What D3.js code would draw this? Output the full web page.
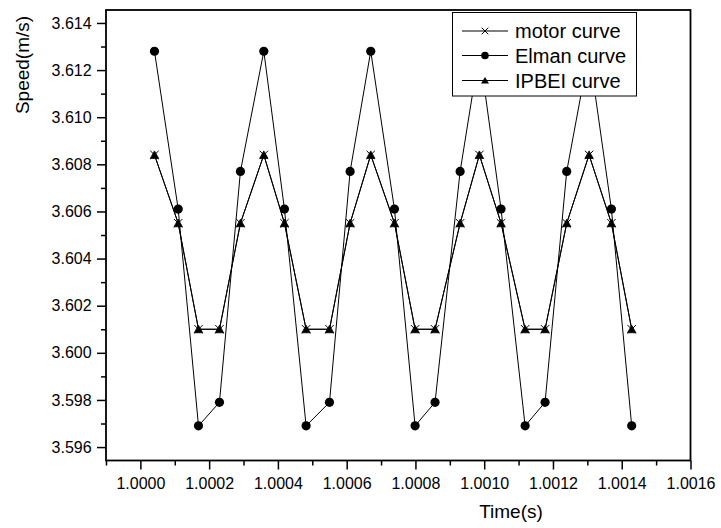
<!DOCTYPE html>
<html>
<head>
<meta charset="utf-8">
<script src="https://cdn.jsdelivr.net/npm/d3@7"></script>
<style>
  html, body { margin: 0; padding: 0; background: #fff; }
  svg { display: block; font-family: "Liberation Sans", Arial, sans-serif; }
</style>
</head>
<body>
<svg id="chart" width="721" height="528"></svg>
<script>
// Sample instants (s)
const times = [
  1.000041, 1.000110, 1.000169, 1.000230, 1.000291,
  1.000359, 1.000419, 1.000482, 1.000550, 1.000610,
  1.000670, 1.000739, 1.000799, 1.000857, 1.000930,
  1.000986, 1.001049, 1.001119, 1.001177, 1.001240,
  1.001305, 1.001370, 1.001429
];
// Speed (m/s) of each curve
const motorSpeed = [
  3.6084, 3.6055, 3.6010, 3.6010, 3.6055,
  3.6084, 3.6055, 3.6010, 3.6010, 3.6055,
  3.6084, 3.6055, 3.6010, 3.6010, 3.6055,
  3.6084, 3.6055, 3.6010, 3.6010, 3.6055,
  3.6084, 3.6055, 3.6010
];
const elmanSpeed = [
  3.6128, 3.6061, 3.5969, 3.5979, 3.6077,
  3.6128, 3.6061, 3.5969, 3.5979, 3.6077,
  3.6128, 3.6061, 3.5969, 3.5979, 3.6077,
  3.6128, 3.6061, 3.5969, 3.5979, 3.6077,
  3.6128, 3.6061, 3.5969
];
const ipbeiSpeed = [
  3.6084, 3.6055, 3.6010, 3.6010, 3.6055,
  3.6084, 3.6055, 3.6010, 3.6010, 3.6055,
  3.6084, 3.6055, 3.6010, 3.6010, 3.6055,
  3.6084, 3.6055, 3.6010, 3.6010, 3.6055,
  3.6084, 3.6055, 3.6010
];
const seriesNames = ["motor curve", "Elman curve", "IPBEI curve"];
const xTicks = [1.0000, 1.0002, 1.0004, 1.0006, 1.0008, 1.0010, 1.0012, 1.0014, 1.0016];
const xMinorTicks = [0.9999, 1.0001, 1.0003, 1.0005, 1.0007, 1.0009, 1.0011, 1.0013, 1.0015];
const yTicks = [3.596, 3.598, 3.600, 3.602, 3.604, 3.606, 3.608, 3.610, 3.612, 3.614];
const yMinorTicks = [3.597, 3.599, 3.601, 3.603, 3.605, 3.607, 3.609, 3.611, 3.613];

const svg = d3.select("#chart");
const m = { left: 106, top: 10, right: 690.5, bottom: 460.5 };

const x = d3.scaleLinear().domain([0.9999, 1.0016]).range([m.left, m.right]);
const y = d3.scaleLinear().domain([3.59543, 3.61455]).range([m.bottom, m.top]);

// Axes with major and minor ticks
const gx = svg.append("g").attr("transform", `translate(0,${m.bottom})`);
gx.call(d3.axisBottom(x).tickValues(xTicks).tickFormat(d3.format(".4f")).tickSize(9).tickSizeOuter(0));
gx.append("g").call(d3.axisBottom(x).tickValues(xMinorTicks).tickFormat("").tickSize(5).tickSizeOuter(0));

const gy = svg.append("g").attr("transform", `translate(${m.left},0)`);
gy.call(d3.axisLeft(y).tickValues(yTicks).tickFormat(d3.format(".3f")).tickSize(9).tickSizeOuter(0));
gy.append("g").call(d3.axisLeft(y).tickValues(yMinorTicks).tickFormat("").tickSize(5).tickSizeOuter(0));

svg.selectAll(".domain").remove();
svg.selectAll(".tick line").attr("stroke", "#000").attr("stroke-width", 1.5);
gx.selectAll(".tick text").attr("font-size", 16).attr("fill", "#000").attr("dy", "1.03em");
gy.selectAll(".tick text").attr("font-size", 16).attr("fill", "#000").attr("dx", "-0.15em");

// Plot frame
svg.append("rect")
  .attr("x", m.left).attr("y", m.top)
  .attr("width", m.right - m.left).attr("height", m.bottom - m.top)
  .attr("fill", "none").attr("stroke", "#000").attr("stroke-width", 1.8);

// Axis titles
svg.append("text")
  .attr("transform", `translate(29,65) rotate(-90)`)
  .attr("text-anchor", "middle").attr("font-size", 19).text("Speed(m/s)");
svg.append("text")
  .attr("x", 511).attr("y", 518)
  .attr("text-anchor", "middle").attr("font-size", 19).text("Time(s)");

// Marker shapes
function circleMark(g, cx, cy) {
  g.append("circle").attr("cx", cx).attr("cy", cy).attr("r", 4.6).attr("fill", "#000");
}
function triMark(g, cx, cy) {
  g.append("path")
    .attr("d", `M${cx - 4.2},${cy + 3.5} L${cx + 4.2},${cy + 3.5} L${cx},${cy - 4} Z`)
    .attr("fill", "#000").attr("stroke", "#000").attr("stroke-width", 0.8);
}
function crossMark(g, cx, cy) {
  const s = 4.2;
  g.append("path")
    .attr("d", `M${cx - s},${cy - s} L${cx + s},${cy + s} M${cx - s},${cy + s} L${cx + s},${cy - s}`)
    .attr("stroke", "#000").attr("stroke-width", 1).attr("fill", "none");
}

const line = d3.line().x(d => x(d[0])).y(d => y(d[1]));
const series = [
  { name: seriesNames[1], values: elmanSpeed, mark: circleMark },
  { name: seriesNames[2], values: ipbeiSpeed, mark: triMark },
  { name: seriesNames[0], values: motorSpeed, mark: crossMark }
];

const plot = svg.append("g");
series.forEach(s => {
  const pts = times.map((t, i) => [t, s.values[i]]);
  plot.append("path").attr("d", line(pts))
    .attr("fill", "none").attr("stroke", "#000").attr("stroke-width", 1);
  const mg = plot.append("g");
  pts.forEach(p => s.mark(mg, x(p[0]), y(p[1])));
});

// Legend
const lg = svg.append("g");
lg.append("rect").attr("x", 452.5).attr("y", 12.5).attr("width", 184).attr("height", 83.5)
  .attr("fill", "#fff").attr("stroke", "#000").attr("stroke-width", 1);
const legendItems = [
  { name: seriesNames[0], mark: crossMark, cy: 31 },
  { name: seriesNames[1], mark: circleMark, cy: 55.5 },
  { name: seriesNames[2], mark: triMark, cy: 80.5 }
];
legendItems.forEach(it => {
  lg.append("line").attr("x1", 462).attr("x2", 508).attr("y1", it.cy).attr("y2", it.cy)
    .attr("stroke", "#000").attr("stroke-width", 1);
  const mg = lg.append("g");
  if (it.mark === circleMark) {
    mg.append("circle").attr("cx", 485).attr("cy", it.cy).attr("r", 3.8).attr("fill", "#000");
  } else if (it.mark === triMark) {
    mg.append("path").attr("d", `M${481},${it.cy + 3} L${489},${it.cy + 3} L${485},${it.cy - 3.5} Z`).attr("fill", "#000");
  } else {
    const s = 3.3;
    mg.append("path")
      .attr("d", `M${485 - s},${it.cy - s} L${485 + s},${it.cy + s} M${485 - s},${it.cy + s} L${485 + s},${it.cy - s}`)
      .attr("stroke", "#000").attr("stroke-width", 1);
  }
  lg.append("text").attr("x", 515).attr("y", it.cy + 7).attr("font-size", 20).text(it.name);
});
</script>
</body>
</html>
